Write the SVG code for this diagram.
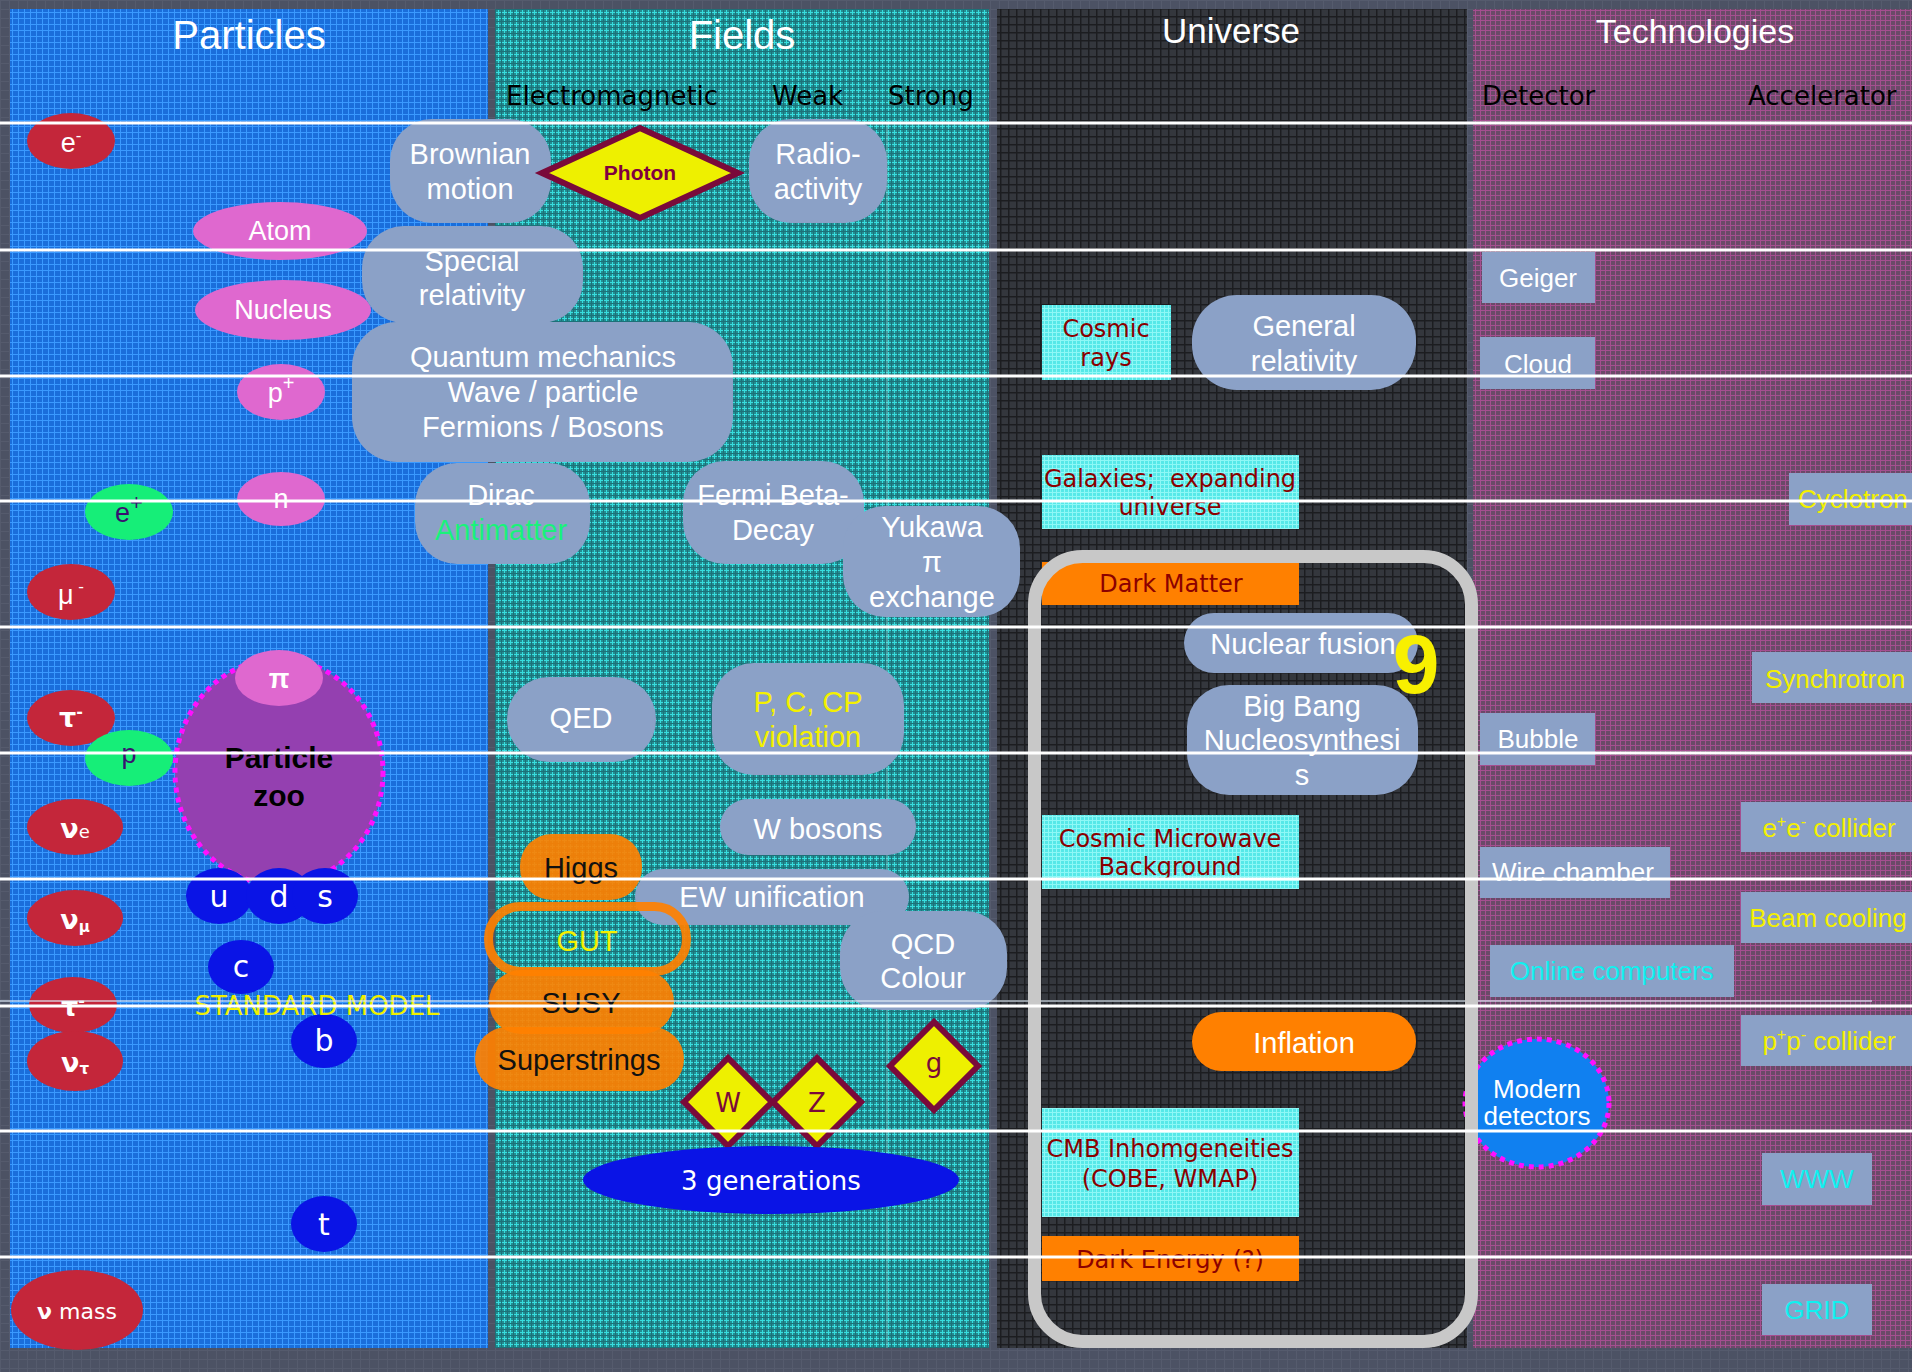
<svg xmlns="http://www.w3.org/2000/svg" width="1912" height="1372" viewBox="0 0 1912 1372">
<defs>
<pattern id="gBg" width="9" height="9" patternUnits="userSpaceOnUse"><rect width="9" height="9" fill="#4c5264"/><path d="M0 .5H9M.5 0V9" stroke="#555b6d" stroke-width="1"/></pattern>
<pattern id="gBlue" width="6" height="6" patternUnits="userSpaceOnUse"><rect width="6" height="6" fill="#1a6edb"/><path d="M0 .5H6M.5 0V6" stroke="#3a9aff" stroke-width="1"/></pattern>
<pattern id="gTeal" width="6" height="6" patternUnits="userSpaceOnUse"><rect width="6" height="6" fill="#238d92"/><path d="M0 .5H6M.5 0V6" stroke="#38dede" stroke-width="1"/><path d="M0 3.5H6M3.5 0V6" stroke="#1c7178" stroke-width="1"/></pattern>
<pattern id="gDark" width="8" height="8" patternUnits="userSpaceOnUse"><rect width="8" height="8" fill="#34373d"/><path d="M0 .75H8M.75 0V8" stroke="#1c1d20" stroke-width="1.5"/></pattern>
<pattern id="gPink" width="5" height="5" patternUnits="userSpaceOnUse"><rect width="5" height="5" fill="#6a4a68"/><path d="M0 .5H5M.5 0V5" stroke="#c852a8" stroke-width="1" opacity=".62"/></pattern>
<pattern id="gCyan" width="4" height="4" patternUnits="userSpaceOnUse"><rect width="4" height="4" fill="#56e8e8"/><path d="M0 .5H4M.5 0V4" stroke="#8ef8f6" stroke-width="1"/></pattern>
<style>
.hdr{font-family:"Liberation Sans",Arial,sans-serif;fill:#fff;text-anchor:middle}
.sub{font-family:"DejaVu Sans",Verdana,sans-serif;font-size:26px;fill:#000}
.box{fill:#8ba1c7}
.bt{font-family:"Liberation Sans",Arial,sans-serif;font-size:29px;fill:#fff;text-anchor:middle}
.ot{font-family:"Liberation Sans",Arial,sans-serif;font-size:29px;fill:#111;text-anchor:middle}
.ut{font-family:"DejaVu Sans",Verdana,sans-serif;font-size:24px;fill:#8b0000;text-anchor:middle}
.tt{font-family:"Liberation Sans",Arial,sans-serif;font-size:26px;text-anchor:middle}
.pt{font-family:"Liberation Sans",Arial,sans-serif;font-size:27px;fill:#fff;text-anchor:middle}
.nt{font-family:"DejaVu Sans",Verdana,sans-serif;font-weight:bold;font-size:27px;fill:#fff;text-anchor:middle}
.qt{font-family:"DejaVu Sans",Verdana,sans-serif;font-size:30px;fill:#fff;text-anchor:middle}
.dt{font-family:"DejaVu Sans",Verdana,sans-serif;font-size:26px;fill:#7a0a3a;text-anchor:middle}
.red{fill:#c4263a}
.pink{fill:#df68cf}
.green{fill:#16ee78}
.quark{fill:#0a14e6}
.orange{fill:#ff8000}
.cyan{fill:url(#gCyan)}
.dia{fill:#eef000;stroke:#7a0a3a;stroke-width:6;stroke-linejoin:miter}
.rule{stroke:#fff;stroke-width:3}
</style>
</defs>

<rect width="1912" height="1372" fill="url(#gBg)"/>

<g id="columns">
<rect x="10" y="9" width="478" height="1339" fill="url(#gBlue)"/>
<rect x="495" y="9" width="494" height="1339" fill="url(#gTeal)"/>
<rect x="997" y="9" width="470" height="1339" fill="url(#gDark)"/>
<rect x="1473" y="9" width="439" height="1339" fill="url(#gPink)"/>
<line x1="887" y1="123" x2="887" y2="1348" stroke="#a8d8d8" stroke-width="1" opacity=".6"/>
</g>

<g id="headers">
<text class="hdr" x="249" y="49" font-size="40">Particles</text>
<text class="hdr" x="742" y="49" font-size="40">Fields</text>
<text class="hdr" x="1231" y="43" font-size="35">Universe</text>
<text class="hdr" x="1695" y="43" font-size="34">Technologies</text>
<text class="sub" x="506" y="105">Electromagnetic</text>
<text class="sub" x="772" y="105">Weak</text>
<text class="sub" x="888" y="105">Strong</text>
<text class="sub" x="1482" y="105">Detector</text>
<text class="sub" x="1748" y="105">Accelerator</text>
</g>

<!-- Particles -->
<g id="zoo"><ellipse cx="279" cy="772" rx="104" ry="113" fill="#9440b0" stroke="#ff10ff" stroke-width="5" stroke-dasharray="5 5"/>
<text x="279" y="768" font-family="Liberation Sans,Arial,sans-serif" font-weight="bold" font-size="30" fill="#000" text-anchor="middle">Particle</text>
<text x="279" y="806" font-family="Liberation Sans,Arial,sans-serif" font-weight="bold" font-size="30" fill="#000" text-anchor="middle">zoo</text></g>
<g id="electron"><ellipse class="red" cx="71" cy="141" rx="44" ry="28"/><text class="pt" x="71" y="152" font-size="28">e<tspan dy="-11" font-size="17">-</tspan></text></g>
<g id="atom"><ellipse class="pink" cx="280" cy="231" rx="87" ry="29"/><text class="pt" x="280" y="240">Atom</text></g>
<g id="nucleus"><ellipse class="pink" cx="283" cy="310" rx="88" ry="30"/><text class="pt" x="283" y="319">Nucleus</text></g>
<g id="proton"><ellipse class="pink" cx="281" cy="392" rx="44" ry="28"/><text class="pt" x="281" y="402">p<tspan dy="-12" font-size="20">+</tspan></text></g>
<g id="neutron"><ellipse class="pink" cx="281" cy="499" rx="44" ry="27"/><text class="pt" x="281" y="508">n</text></g>
<g id="positron"><ellipse class="green" cx="129" cy="512" rx="44" ry="28"/><text class="pt" x="129" y="522" style="fill:#3a1070">e<tspan dy="-12" font-size="22">+</tspan></text></g>
<g id="muon"><ellipse class="red" cx="71" cy="592" rx="44" ry="28"/><text class="pt" x="71" y="604">μ<tspan dy="-12" font-size="17"> -</tspan></text></g>
<g id="pion"><ellipse class="pink" cx="279" cy="678" rx="44" ry="28"/><text class="pt" x="279" y="688" font-weight="bold" font-size="28">π</text></g>
<g id="tau"><ellipse class="red" cx="71" cy="718" rx="44" ry="28"/><text class="nt" x="71" y="727" font-size="26">τ<tspan dy="-10" font-size="16">-</tspan></text></g>
<g id="antiproton"><ellipse class="green" cx="129" cy="758" rx="44" ry="28"/><text class="pt" x="129" y="763" style="fill:#3a1070">p</text></g>
<g id="nu-e"><ellipse class="red" cx="75" cy="827" rx="48" ry="28"/><text class="nt" x="75" y="838">ν<tspan font-size="18" font-weight="normal">e</tspan></text></g>
<g id="nu-mu"><ellipse class="red" cx="75" cy="918" rx="48" ry="28"/><text class="nt" x="75" y="929">ν<tspan font-size="15" dy="3">μ</tspan></text></g>
<g id="tau2"><ellipse class="red" cx="73" cy="1005" rx="44" ry="28"/><text class="nt" x="73" y="1016" font-size="26">τ<tspan dy="-10" font-size="16">-</tspan></text></g>
<g id="nu-tau"><ellipse class="red" cx="75" cy="1061" rx="48" ry="30"/><text class="nt" x="75" y="1072">ν<tspan font-size="15" dy="2">τ</tspan></text></g>
<g id="nu-mass"><ellipse class="red" cx="77" cy="1310" rx="66" ry="40"/><text x="77" y="1319" font-family="DejaVu Sans,Verdana,sans-serif" font-size="22" fill="#fff" text-anchor="middle"><tspan font-weight="bold">ν</tspan> mass</text></g>
<g id="q-u"><ellipse class="quark" cx="219" cy="896" rx="33" ry="28"/><text class="qt" x="219" y="907">u</text></g>
<g id="q-d"><ellipse class="quark" cx="279" cy="896" rx="33" ry="28"/><text class="qt" x="279" y="907">d</text></g>
<g id="q-s"><ellipse class="quark" cx="325" cy="896" rx="33" ry="28"/><text class="qt" x="325" y="907">s</text></g>
<g id="q-c"><ellipse class="quark" cx="241" cy="967" rx="33" ry="27"/><text class="qt" x="241" y="977">c</text></g>
<g id="q-b"><ellipse class="quark" cx="324" cy="1041" rx="33" ry="27"/><text class="qt" x="324" y="1051">b</text></g>
<g id="q-t"><ellipse class="quark" cx="324" cy="1224" rx="33" ry="28"/><text class="qt" x="324" y="1235">t</text></g>
<g id="standard-model"><text x="317" y="1015" font-family="DejaVu Sans,Verdana,sans-serif" font-size="26" fill="#f0f000" text-anchor="middle">STANDARD MODEL</text></g>

<!-- Fields -->
<g id="brownian"><rect class="box" x="390" y="119" width="161" height="104" rx="42"/><text class="bt" x="470" y="164">Brownian</text><text class="bt" x="470" y="199">motion</text></g>
<g id="photon"><polygon class="dia" points="542,173 640,128 738,173 640,218"/><text x="640" y="180" font-family="Liberation Sans,Arial,sans-serif" font-weight="bold" font-size="21" fill="#800040" text-anchor="middle">Photon</text></g>
<g id="radioactivity"><rect class="box" x="749" y="119" width="138" height="104" rx="42"/><text class="bt" x="818" y="164">Radio-</text><text class="bt" x="818" y="199">activity</text></g>
<g id="special-relativity"><rect class="box" x="362" y="226" width="221" height="97" rx="42"/><text class="bt" x="472" y="271">Special</text><text class="bt" x="472" y="305">relativity</text></g>
<g id="quantum"><rect class="box" x="352" y="322" width="381" height="140" rx="45"/><text class="bt" x="543" y="367">Quantum mechanics</text><text class="bt" x="543" y="402">Wave / particle</text><text class="bt" x="543" y="437">Fermions / Bosons</text></g>
<g id="dirac"><rect class="box" x="415" y="463" width="175" height="101" rx="42"/><text class="bt" x="501" y="505">Dirac</text><text class="bt" x="501" y="540" style="fill:#19f27a">Antimatter</text></g>
<g id="fermi"><rect class="box" x="683" y="461" width="181" height="103" rx="42"/><text class="bt" x="773" y="505">Fermi Beta-</text><text class="bt" x="773" y="540">Decay</text></g>
<g id="yukawa"><rect class="box" x="843" y="506" width="177" height="111" rx="42"/><text class="bt" x="932" y="537">Yukawa</text><text class="bt" x="932" y="572">π</text><text class="bt" x="932" y="607">exchange</text></g>
<g id="qed"><rect class="box" x="507" y="677" width="149" height="85" rx="42"/><text class="bt" x="581" y="728">QED</text></g>
<g id="pccp"><rect class="box" x="712" y="663" width="192" height="112" rx="42"/><text class="bt" x="808" y="712" style="fill:#f4f000">P, C, CP</text><text class="bt" x="808" y="747" style="fill:#f4f000">violation</text></g>
<g id="w-bosons"><rect class="box" x="720" y="799" width="196" height="56" rx="28"/><text class="bt" x="818" y="839">W bosons</text></g>
<g id="higgs"><rect class="orange" x="520" y="834" width="122" height="66" rx="32" opacity=".92"/><text class="ot" x="581" y="878">Higgs</text></g>
<g id="ew"><rect class="box" x="635" y="869" width="274" height="56" rx="28"/><text class="bt" x="772" y="907">EW unification</text></g>
<g id="gut"><rect x="488.5" y="906.5" width="198" height="65" rx="32" fill="none" stroke="#ff8000" stroke-width="9" opacity=".92"/><text class="bt" x="587" y="951" style="fill:#f4f000">GUT</text></g>
<g id="qcd"><rect class="box" x="840" y="911" width="167" height="99" rx="42"/><text class="bt" x="923" y="954">QCD</text><text class="bt" x="923" y="988">Colour</text></g>
<g id="susy"><rect class="orange" x="489" y="970" width="185" height="64" rx="32" opacity=".92"/><text class="ot" x="581" y="1013">SUSY</text></g>
<g id="superstrings"><rect class="orange" x="475" y="1027" width="209" height="64" rx="32" opacity=".92"/><text class="ot" x="579" y="1070">Superstrings</text></g>
<g id="w-boson"><polygon class="dia" points="684,1102 728,1058 772,1102 728,1146"/><text class="dt" x="728" y="1112">W</text></g>
<g id="z-boson"><polygon class="dia" points="773,1102 817,1058 861,1102 817,1146"/><text class="dt" x="817" y="1112">Z</text></g>
<g id="gluon"><polygon class="dia" points="890,1066 934,1022 978,1066 934,1110"/><text class="dt" x="934" y="1072">g</text></g>
<g id="generations"><ellipse class="quark" cx="771" cy="1180" rx="188" ry="34"/><text x="771" y="1190" font-family="DejaVu Sans,Verdana,sans-serif" font-size="26" fill="#fff" text-anchor="middle">3 generations</text></g>

<!-- Universe -->
<g id="cosmic-rays"><rect class="cyan" x="1042" y="305" width="129" height="75"/><text class="ut" x="1106" y="337">Cosmic</text><text class="ut" x="1106" y="366">rays</text></g>
<g id="general-relativity"><rect class="box" x="1192" y="295" width="224" height="95" rx="45"/><text class="bt" x="1304" y="336">General</text><text class="bt" x="1304" y="371">relativity</text></g>
<g id="galaxies"><rect class="cyan" x="1042" y="455" width="257" height="74"/><text class="ut" x="1170" y="487">Galaxies;&#160; expanding</text><text class="ut" x="1170" y="515">universe</text></g>
<g id="dark-matter"><rect class="orange" x="1042" y="562" width="257" height="43"/><text class="ut" x="1171" y="592">Dark Matter</text></g>
<g id="nuclear-fusion"><rect class="box" x="1184" y="613" width="234" height="60" rx="30"/><text class="bt" x="1303" y="654">Nuclear fusion</text></g>
<g id="nine"><text x="1416" y="693" font-family="Liberation Sans,Arial,sans-serif" font-weight="bold" font-size="84" fill="#f8f000" text-anchor="middle">9</text></g>
<g id="bbn"><rect class="box" x="1187" y="685" width="231" height="110" rx="42"/><text class="bt" x="1302" y="716">Big Bang</text><text class="bt" x="1302" y="750">Nucleosynthesi</text><text class="bt" x="1302" y="785">s</text></g>
<g id="cmb"><rect class="cyan" x="1042" y="815" width="257" height="74"/><text class="ut" x="1170" y="847">Cosmic Microwave</text><text class="ut" x="1170" y="875">Background</text></g>
<g id="inflation"><rect class="orange" x="1192" y="1012" width="224" height="59" rx="29.5"/><text class="bt" x="1304" y="1053">Inflation</text></g>
<g id="cmb-inhom"><rect class="cyan" x="1042" y="1108" width="257" height="109"/><text class="ut" x="1170" y="1157">CMB Inhomgeneities</text><text class="ut" x="1170" y="1187">(COBE, WMAP)</text></g>
<g id="dark-energy"><rect class="orange" x="1042" y="1236" width="257" height="45"/><text class="ut" x="1170" y="1268">Dark Energy (?)</text></g>

<!-- Technologies -->
<g id="geiger"><rect class="box" x="1482" y="252" width="113" height="51"/><text class="tt" x="1538" y="287" fill="#fff">Geiger</text></g>
<g id="cloud"><rect class="box" x="1480" y="337" width="115" height="52"/><text class="tt" x="1538" y="373" fill="#fff">Cloud</text></g>
<g id="cyclotron"><rect class="box" x="1789" y="473" width="123" height="52"/><text class="tt" x="1798" y="508" fill="#f4f000" style="text-anchor:start">Cyclotron</text></g>
<g id="synchrotron"><rect class="box" x="1752" y="652" width="160" height="51"/><text class="tt" x="1835" y="688" fill="#f4f000">Synchrotron</text></g>
<g id="bubble"><rect class="box" x="1480" y="713" width="115" height="52"/><text class="tt" x="1538" y="748" fill="#fff">Bubble</text></g>
<g id="ee-collider"><rect class="box" x="1741" y="802" width="171" height="50"/><text class="tt" x="1829" y="837" fill="#f4f000">e<tspan dy="-10" font-size="16">+</tspan><tspan dy="10">e</tspan><tspan dy="-10" font-size="16">-</tspan><tspan dy="10"> collider</tspan></text></g>
<g id="wire-chamber"><rect class="box" x="1480" y="847" width="190" height="51"/><text class="tt" x="1492" y="881" fill="#fff" style="text-anchor:start">Wire chamber</text></g>
<g id="beam-cooling"><rect class="box" x="1741" y="892" width="171" height="51"/><text class="tt" x="1828" y="927" fill="#f4f000">Beam cooling</text></g>
<g id="online"><rect class="box" x="1490" y="945" width="244" height="52"/><text class="tt" x="1612" y="980" fill="#10f0f0">Online computers</text></g>
<line x1="0" y1="1001" x2="1872" y2="1001" stroke="#e0ecf8" stroke-width="2" opacity=".6"/>
<g id="pp-collider"><rect class="box" x="1741" y="1015" width="171" height="51"/><text class="tt" x="1829" y="1050" fill="#f4f000">p<tspan dy="-10" font-size="16">+</tspan><tspan dy="10">p</tspan><tspan dy="-10" font-size="16">-</tspan><tspan dy="10"> collider</tspan></text></g>
<g id="modern"><ellipse cx="1537" cy="1103" rx="72" ry="64" fill="#1080f0" stroke="#ff10ff" stroke-width="5" stroke-dasharray="5 5"/><text class="tt" x="1537" y="1098" font-size="24" fill="#fff">Modern</text><text class="tt" x="1537" y="1125" font-size="24" fill="#fff">detectors</text></g>
<g id="www"><rect class="box" x="1762" y="1153" width="110" height="52"/><text class="tt" x="1817" y="1188" fill="#10f0f0">WWW</text></g>
<g id="grid"><rect class="box" x="1762" y="1284" width="110" height="51"/><text class="tt" x="1817" y="1319" fill="#10f0f0">GRID</text></g>

<g id="universe-frame"><rect x="1034.5" y="556.5" width="437" height="785" rx="48" fill="none" stroke="#c8c8c8" stroke-width="13"/></g>

<g id="row-lines">
<line class="rule" x1="0" y1="123" x2="1912" y2="123"/>
<line class="rule" x1="0" y1="250" x2="1912" y2="250"/>
<line class="rule" x1="0" y1="376" x2="1912" y2="376"/>
<line class="rule" x1="0" y1="501" x2="1912" y2="501"/>
<line class="rule" x1="0" y1="627" x2="1912" y2="627"/>
<line class="rule" x1="0" y1="753" x2="1912" y2="753"/>
<line class="rule" x1="0" y1="879" x2="1912" y2="879"/>
<line class="rule" x1="0" y1="1006" x2="1912" y2="1006"/>
<line class="rule" x1="0" y1="1131" x2="1912" y2="1131"/>
<line class="rule" x1="0" y1="1257" x2="1912" y2="1257"/>
</g>
</svg>
